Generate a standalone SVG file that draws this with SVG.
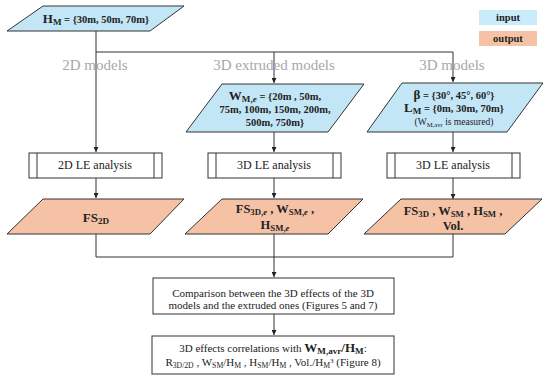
<svg xmlns="http://www.w3.org/2000/svg" width="550" height="380" viewBox="0 0 550 380">
<defs>
<marker id="ah" viewBox="0 0 8 8" refX="8" refY="4" markerWidth="5" markerHeight="5" orient="auto" markerUnits="userSpaceOnUse">
<path d="M0,0 L8,4 L0,8 z" fill="#222"/>
</marker>
<style>
text{font-family:"Liberation Serif","DejaVu Serif",serif;fill:#222;text-anchor:middle}
.in{fill:#c3e6f7;stroke:#333;stroke-width:1}
.out{fill:#f5c2a6;stroke:#333;stroke-width:1}
.box{fill:#fff;stroke:#333;stroke-width:1}
.ln{fill:none;stroke:#333;stroke-width:1}
.b{font-weight:bold}
.sub{font-size:70%;baseline-shift:-25%}
.sup{font-size:65%;baseline-shift:40%}
.grey{fill:#a8a8a8;font-size:15px}
</style>
</defs>
<rect width="550" height="380" fill="#fff"/>

<g id="legend">
<rect x="479" y="10" width="58" height="15" fill="#c9ebfa"/>
<text x="508" y="21" class="b" font-size="10.5">input</text>
<rect x="479" y="31" width="58" height="15" fill="#f5c2a6"/>
<text x="508" y="42" class="b" font-size="10.5">output</text>
</g>

<g id="connectors">
<path class="ln" d="M96,31 V152" marker-end="url(#ah)"/>
<path class="ln" d="M96,52 H453"/>
<path class="ln" d="M274,52 V83" marker-end="url(#ah)"/>
<path class="ln" d="M453,52 V82" marker-end="url(#ah)"/>
<path class="ln" d="M274,132 V152" marker-end="url(#ah)"/>
<path class="ln" d="M453,132 V152" marker-end="url(#ah)"/>
<path class="ln" d="M96,178 V198" marker-end="url(#ah)"/>
<path class="ln" d="M274,178 V198" marker-end="url(#ah)"/>
<path class="ln" d="M453,178 V199" marker-end="url(#ah)"/>
<path class="ln" d="M96,234 V257 H453 V234"/>
<path class="ln" d="M274,234 V257"/>
<path class="ln" d="M274,257 V277" marker-end="url(#ah)"/>
<path class="ln" d="M274,314 V335" marker-end="url(#ah)"/>
</g>

<g id="labels">
<text x="95" y="70" class="grey">2D models</text>
<text x="274" y="70" class="grey">3D extruded models</text>
<text x="452" y="70" class="grey">3D models</text>
</g>

<g id="hm">
<polygon class="in" points="43,6 184,6 150,31 7,31"/>
<text x="96" y="23" class="b" font-size="10.5"><tspan font-size="13">H<tspan class="sub">M</tspan></tspan> = {30m, 50m, 70m}</text>
</g>

<g id="wme">
<polygon class="in" points="222,84 364,84 328,132 186,132"/>
<text x="275" y="100" class="b" font-size="10.5"><tspan font-size="13">W<tspan class="sub">M,<tspan font-style="italic">e</tspan></tspan></tspan> = {20m , 50m,</text>
<text x="275" y="113" class="b" font-size="10.5">75m, 100m, 150m, 200m,</text>
<text x="275" y="126" class="b" font-size="10.5">500m, 750m}</text>
</g>

<g id="beta">
<polygon class="in" points="402,83 543,83 507,132 367,132"/>
<text x="454" y="99" class="b" font-size="10.5"><tspan font-size="13">β</tspan> = {30°, 45°, 60°}</text>
<text x="454" y="112" class="b" font-size="10.5"><tspan font-size="13">L<tspan class="sub">M</tspan></tspan> = {0m, 30m, 70m}</text>
<text x="454" y="125" font-size="9.5">(W<tspan class="sub">M,avr</tspan> is measured)</text>
</g>

<g id="le2d">
<rect class="box" x="29" y="153" width="133" height="25"/>
<path class="ln" d="M37,153 V178 M154,153 V178"/>
<text x="95" y="169" font-size="12">2D LE analysis</text>
</g>
<g id="le3de">
<rect class="box" x="208" y="153" width="133" height="25"/>
<path class="ln" d="M216,153 V178 M333,153 V178"/>
<text x="274" y="169" font-size="12">3D LE analysis</text>
</g>
<g id="le3d">
<rect class="box" x="387" y="153" width="133" height="25"/>
<path class="ln" d="M395,153 V178 M512,153 V178"/>
<text x="453" y="169" font-size="12">3D LE analysis</text>
</g>

<g id="fs2d">
<polygon class="out" points="43,199 184,199 150,234 7,234"/>
<text x="96" y="222" class="b" font-size="13">FS<tspan class="sub">2D</tspan></text>
</g>
<g id="fs3de">
<polygon class="out" points="222,199 363,199 328,234 185,234"/>
<text x="275" y="213" class="b" font-size="12.5">FS<tspan class="sub">3D,<tspan font-style="italic">e</tspan></tspan> , W<tspan class="sub">SM,<tspan font-style="italic">e</tspan></tspan> ,</text>
<text x="275" y="229" class="b" font-size="12.5">H<tspan class="sub">SM,<tspan font-style="italic">e</tspan></tspan></text>
</g>
<g id="fs3d">
<polygon class="out" points="401,199 542,199 505,234 364,234"/>
<text x="453" y="215" class="b" font-size="12.5">FS<tspan class="sub">3D</tspan> , W<tspan class="sub">SM</tspan> , H<tspan class="sub">SM</tspan> ,</text>
<text x="453" y="230" class="b" font-size="12.5">Vol.</text>
</g>

<g id="comparison">
<rect class="box" x="153" y="278" width="241" height="36"/>
<text x="273" y="297" font-size="11">Comparison between the 3D effects of the 3D</text>
<text x="273" y="309" font-size="11">models and the extruded ones (Figures 5 and 7)</text>
</g>

<g id="correlations">
<rect class="box" x="152" y="336" width="242" height="38"/>
<text x="273" y="352" font-size="11">3D effects correlations  with <tspan class="b" font-size="13">W<tspan class="sub">M,avr</tspan>/H<tspan class="sub">M</tspan></tspan>:</text>
<text x="273" y="366" font-size="11">R<tspan class="sub">3D/2D</tspan> , W<tspan class="sub">SM</tspan>/H<tspan class="sub">M</tspan> , H<tspan class="sub">SM</tspan>/H<tspan class="sub">M</tspan> , Vol./H<tspan class="sub">M</tspan><tspan class="sup">3</tspan> (Figure 8)</text>
</g>
</svg>
